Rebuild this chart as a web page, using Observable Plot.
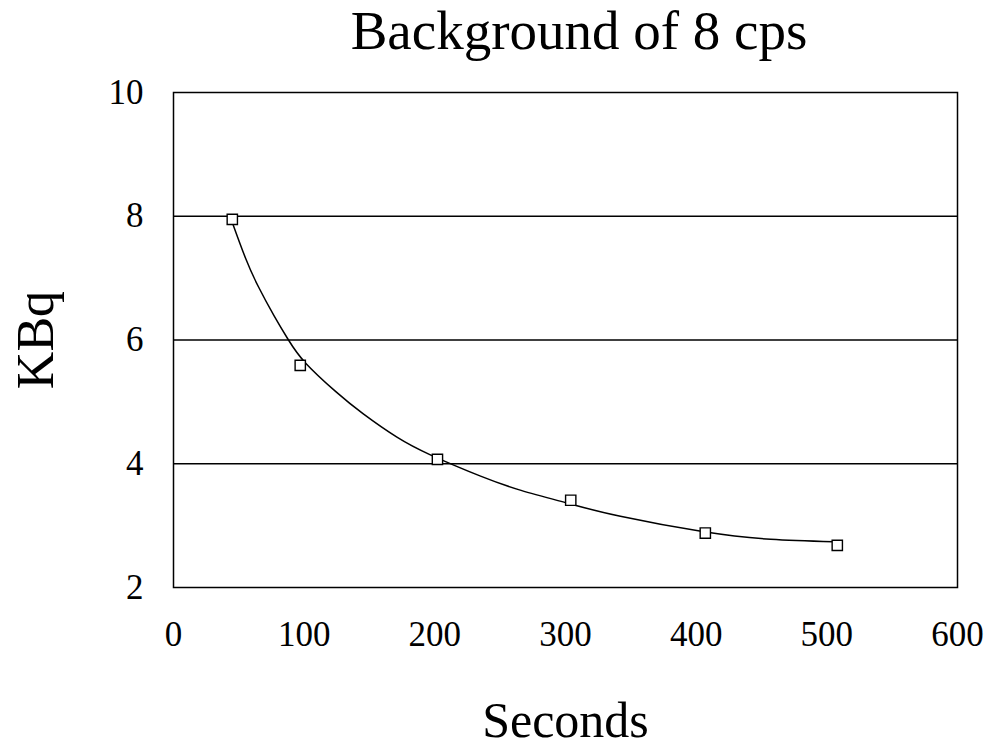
<!DOCTYPE html>
<html>
<head>
<meta charset="utf-8">
<script src="https://cdn.jsdelivr.net/npm/d3@7"></script>
<script src="https://cdn.jsdelivr.net/npm/@observablehq/plot@0.6"></script>
<style>
  body { margin: 0; background: #fff; }
  #title { height: 70px; box-sizing: border-box; padding-left: 201px; padding-right: 36px; text-align: center;
    font-family: "Liberation Serif", "DejaVu Serif", serif; font-size: 55px; line-height: 62px; color: #000; }
</style>
</head>
<body>
<div id="title">Background of 8 cps</div>
<div id="chart"></div>
<script>
// Measured points (seconds, KBq)
const seconds = [45, 97, 202, 304, 407, 508];
const kbq = [7.95, 5.59, 4.07, 3.41, 2.88, 2.68];
// Trend curve
const curveSeconds = [45, 55, 65, 77, 88, 101, 124, 145, 171, 197, 235, 266, 302, 342, 406, 457, 505];
const curveKbq = [7.9, 7.33, 6.86, 6.39, 6.0, 5.63, 5.17, 4.81, 4.43, 4.14, 3.8, 3.57, 3.36, 3.15, 2.9, 2.78, 2.74];
const xTicks = [0, 100, 200, 300, 400, 500, 600];
const yTicks = [2, 4, 6, 8, 10];
const gridValues = [4, 6, 8];

const points = seconds.map((s, i) => ({x: s, y: kbq[i]}));
const curve = curveSeconds.map((s, i) => ({x: s, y: curveKbq[i]}));

const chart = Plot.plot({
  width: 993,
  height: 679,
  marginLeft: 173,
  marginRight: 36,
  marginTop: 22,
  marginBottom: 162,
  style: {fontFamily: "'Liberation Serif', 'DejaVu Serif', serif", fontSize: "35px", color: "#000", background: "#fff"},
  x: {domain: [0, 600]},
  y: {domain: [2, 10]},
  marks: [
    Plot.ruleY(gridValues, {stroke: "#000", strokeWidth: 1.5}),
    Plot.frame({stroke: "#000", strokeWidth: 1.5}),
    Plot.axisX(xTicks, {tickSize: 0, tickPadding: 34, label: null, fontSize: 35, tickFormat: d3.format("d")}),
    Plot.axisY(yTicks, {tickSize: 0, tickPadding: 30, label: null, fontSize: 35, tickFormat: d3.format("d")}),
    Plot.line(curve, {x: "x", y: "y", curve: "natural", stroke: "#000", strokeWidth: 1.5}),
    Plot.dot(points, {x: "x", y: "y", symbol: "square", r: 5.8, stroke: "#000", strokeWidth: 1.4, fill: "#fff"}),
    Plot.text(["Seconds"], {frameAnchor: "bottom", dy: 133, lineAnchor: "middle", textAnchor: "middle", fontSize: 50}),
    Plot.text(["KBq"], {frameAnchor: "left", dx: -137, rotate: -90, lineAnchor: "middle", textAnchor: "middle", fontSize: 52})
  ]
});
document.getElementById("chart").appendChild(chart);
</script>
</body>
</html>
